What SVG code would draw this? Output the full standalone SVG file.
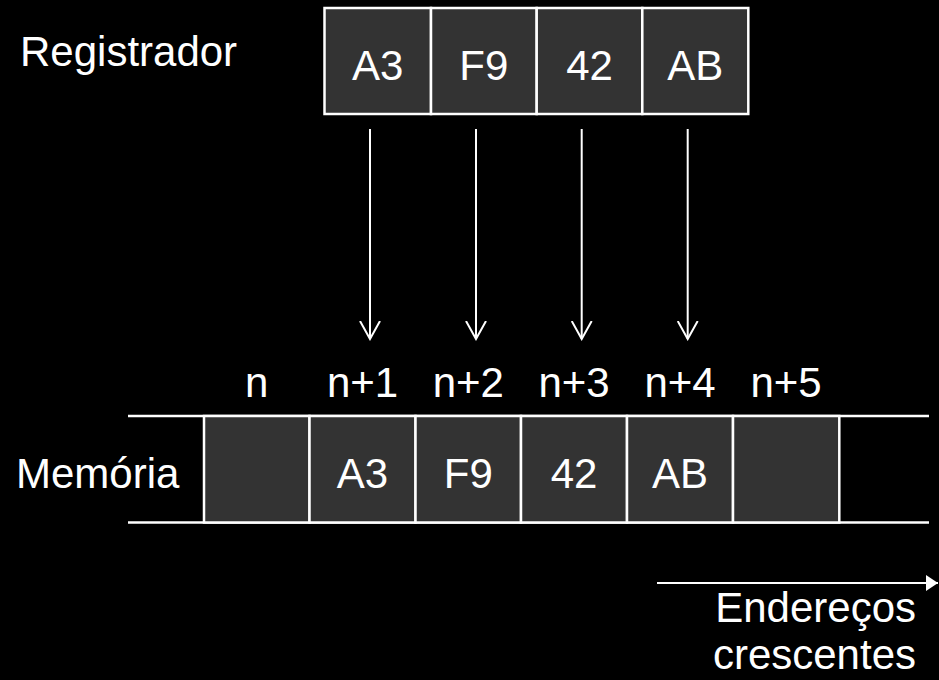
<svg xmlns="http://www.w3.org/2000/svg" width="939" height="680" viewBox="0 0 939 680">
<style>
text{font-family:"Liberation Sans",Arial,sans-serif;font-size:42px;fill:#fff}
.c{text-anchor:middle}
.cell{fill:#333;stroke:#fff;stroke-width:2.5}
.ln{stroke:#fff;stroke-width:2.5;fill:none}
.ar{stroke:#fff;stroke-width:2;fill:none}
</style>
<defs>
<marker id="v" viewBox="0 0 20 22" refX="18" refY="11" markerWidth="20" markerHeight="22" markerUnits="userSpaceOnUse" orient="auto">
<path d="M0,1 L18,11 L0,21" fill="none" stroke="#fff" stroke-width="2"/>
</marker>
<marker id="t" viewBox="0 0 12 16" refX="12" refY="8" markerWidth="12" markerHeight="16" markerUnits="userSpaceOnUse" orient="auto">
<path d="M0,0 L12,8 L0,16 Z" fill="#fff"/>
</marker>
</defs>
<rect width="939" height="680" fill="#000"/>
<g id="registrador">
<text x="20" y="66">Registrador</text>
<rect class="cell" x="324.5" y="8" width="106.5" height="106"/>
<rect class="cell" x="431" y="8" width="105.7" height="106"/>
<rect class="cell" x="536.7" y="8" width="105.6" height="106"/>
<rect class="cell" x="642.3" y="8" width="106" height="106"/>
<text class="c" x="377.7" y="80">A3</text>
<text class="c" x="483.8" y="80">F9</text>
<text class="c" x="589.5" y="80">42</text>
<text class="c" x="695.3" y="80">AB</text>
</g>
<g id="memoria">
<text x="16" y="488">Memória</text>
<line class="ln" x1="128" y1="416" x2="929" y2="416"/>
<line class="ln" x1="128" y1="522.5" x2="929" y2="522.5"/>
<rect class="cell" x="204" y="416" width="105.5" height="106.5"/>
<rect class="cell" x="309.5" y="416" width="106" height="106.5"/>
<rect class="cell" x="415.5" y="416" width="105.5" height="106.5"/>
<rect class="cell" x="521" y="416" width="106" height="106.5"/>
<rect class="cell" x="627" y="416" width="106" height="106.5"/>
<rect class="cell" x="733" y="416" width="106.3" height="106.5"/>
<text class="c" x="362.5" y="488">A3</text>
<text class="c" x="468.3" y="488">F9</text>
<text class="c" x="574" y="488">42</text>
<text class="c" x="680" y="488">AB</text>
</g>
<g id="enderecos-labels">
<text class="c" x="256.7" y="397">n</text>
<text class="c" x="362.5" y="397">n+1</text>
<text class="c" x="468.3" y="397">n+2</text>
<text class="c" x="574" y="397">n+3</text>
<text class="c" x="680" y="397">n+4</text>
<text class="c" x="786" y="397">n+5</text>
</g>
<g id="legenda">
<text x="916" y="622" text-anchor="end">Endereços</text>
<text x="916" y="669" text-anchor="end">crescentes</text>
</g>
<g id="connectors">
<line class="ar" x1="370" y1="129" x2="370" y2="339" marker-end="url(#v)"/>
<line class="ar" x1="476" y1="129" x2="476" y2="339" marker-end="url(#v)"/>
<line class="ar" x1="581.7" y1="129" x2="581.7" y2="339" marker-end="url(#v)"/>
<line class="ar" x1="687.7" y1="129" x2="687.7" y2="339" marker-end="url(#v)"/>
<line class="ar" x1="657" y1="583" x2="938" y2="583" marker-end="url(#t)"/>
</g>
</svg>
